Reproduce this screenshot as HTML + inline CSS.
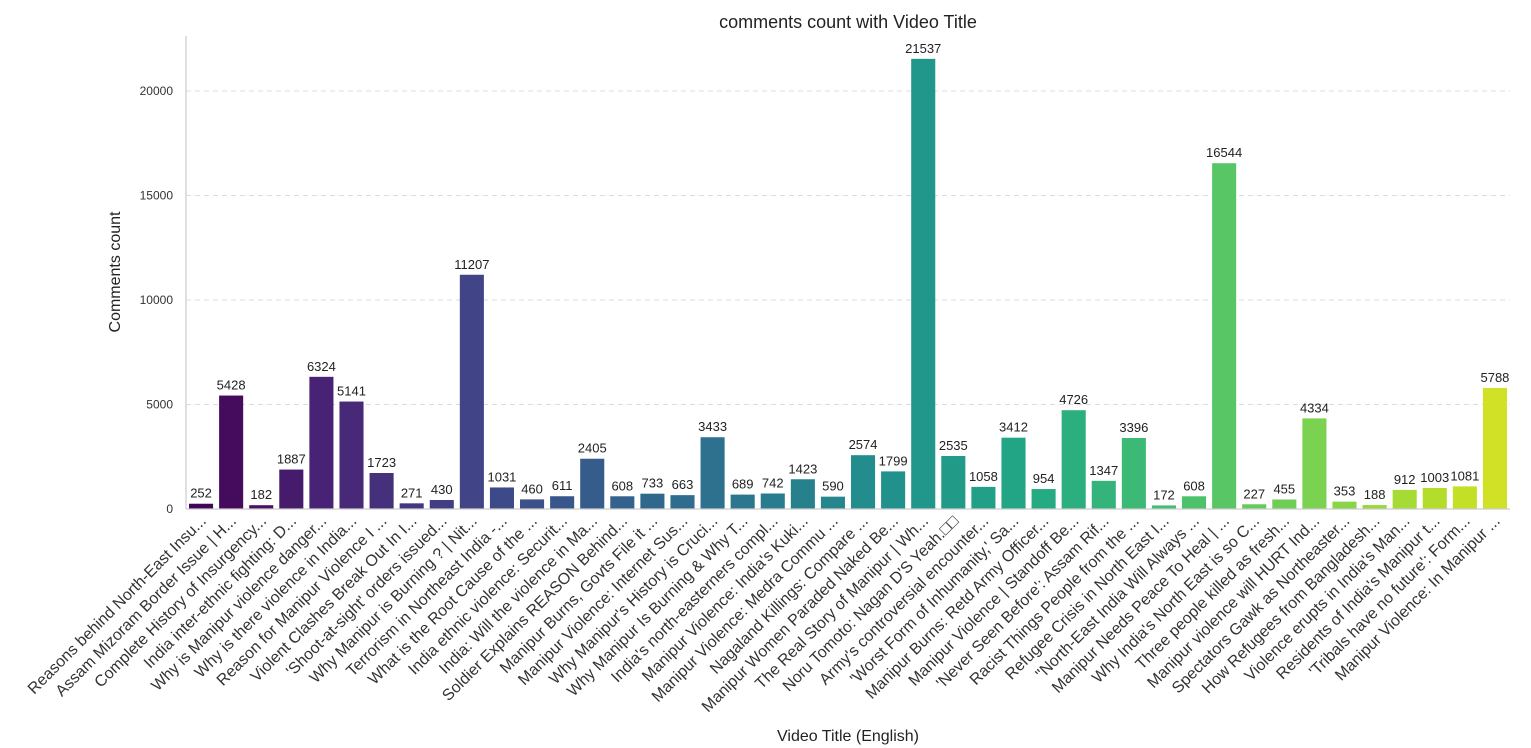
<!DOCTYPE html>
<html><head><meta charset="utf-8"><style>
html,body{margin:0;padding:0;background:#fff;}
svg{display:block;font-family:"Liberation Sans","Noto Sans CJK SC",sans-serif;}
</style></head><body>
<svg id="chart" width="1531" height="748"></svg>
<script>
const categories = [
"Reasons behind North-East Insu...","Assam Mizoram Border Issue | H...","Complete History of Insurgency...","India inter-ethnic fighting: D...","Why is Manipur violence danger...","Why is there violence in India...","Reason for Manipur Violence I ...","Violent Clashes Break Out In I...","'Shoot-at-sight' orders issued...","Why Manipur is Burning ? | Nit...","Terrorism in Northeast India -...","What is the Root Cause of the ...","India ethnic violence: Securit...","India: Will the violence in Ma...","Soldier Explains REASON Behind...","Manipur Burns, Govts File it ...","Manipur Violence: Internet Sus...","Why Manipur's History is Cruci...","Why Manipur Is Burning & Why T...","India's north-easterners compl...","Manipur Violence: India's Kuki...","Manipur Violence: Medra Commu ...","Nagaland Killings: Compare ...","Manipur Women Paraded Naked Be...","The Real Story of Manipur | Wh...","Noru Tomoto: Nagan D'S Yeah.□□","Army's controversial encounter...","'Worst Form of Inhumanity,' Sa...","Manipur Burns: Retd Army Officer...","Manipur Violence | Standoff Be...","'Never Seen Before': Assam Rif...","Racist Things People from the ...","Refugee Crisis in North East I...","\"North-East India Will Always ...","Manipur Needs Peace To Heal | ...","Why India's North East is so C...","Three people killed as fresh...","Manipur violence will HURT Ind...","Spectators Gawk as Northeaster...","How Refugees from Bangladesh...","Violence erupts in India's Man...","Residents of India's Manipur t...","'Tribals have no future': Form...","Manipur Violence: In Manipur ..."];
const values = [252,5428,182,1887,6324,5141,1723,271,430,11207,1031,460,611,2405,608,733,663,3433,689,742,1423,590,2574,1799,21537,2535,1058,3412,954,4726,1347,3396,172,608,16544,227,455,4334,353,188,912,1003,1081,5788];
const yTicks = [0,5000,10000,15000,20000];

const NS="http://www.w3.org/2000/svg";
const svg=document.getElementById('chart');
const L=186,R=1510,T=36,B=509,yMax=22630;
const n=categories.length, step=(R-L)/n;
const y=v=>B-(v/yMax)*(B-T);
const xc=i=>L+step*(i+0.5);
const vir=[[68,1,84],[72,36,117],[65,68,135],[53,95,141],[42,120,142],[33,145,140],[34,168,132],[68,191,112],[122,209,81],[189,223,38],[253,231,37]];
function col(t){t=0.01+t*0.92;const p=t*10,k=Math.min(9,Math.floor(p)),f=p-k;const a=vir[k],b=vir[k+1];return 'rgb('+a.map((c,j)=>Math.round(c+(b[j]-c)*f)).join(',')+')';}
function mk(tag,attrs,txt){const e=document.createElementNS(NS,tag);for(const k in attrs)e.setAttribute(k,attrs[k]);if(txt!==undefined)e.textContent=txt;svg.appendChild(e);return e;}

yTicks.forEach(t=>{
  if(t>0){const g=mk('line',{x1:L,x2:R,y1:y(t),y2:y(t),stroke:'#dcdcdc','stroke-dasharray':'5,4','stroke-width':1});
  
  }
  const tl=mk('text',{x:173,y:y(t)+4,'text-anchor':'end','font-size':12,fill:'#333'},t);
  
  
});
values.forEach((v,i)=>{
  const w=step*0.8;
  const r=mk('rect',{x:xc(i)-w/2,y:y(v),width:w,height:B-y(v),fill:col(i/(n-1))});
  
  
  const vl=mk('text',{x:xc(i),y:y(v)-6,'text-anchor':'middle','font-size':13,fill:'#222'},v);
  
  
  const ax=xc(i)+6, ay=B+13;
  const xl=mk('text',{x:ax,y:ay,'text-anchor':'end','font-size':16,fill:'#333',transform:'rotate(-45 '+ax+' '+ay+')'},categories[i]);
  
  
});
const sp1=mk('line',{x1:L,x2:L,y1:T,y2:B,stroke:'#ccc','stroke-width':1.2});


const sp2=mk('line',{x1:L,x2:R,y1:B,y2:B,stroke:'#ccc','stroke-width':1.2});


const ti=mk('text',{x:848,y:28,'text-anchor':'middle','font-size':18,fill:'#222'},'comments count with  Video Title');


const yt=mk('text',{x:120,y:272,'text-anchor':'middle','font-size':16,fill:'#222',transform:'rotate(-90 120 272)'},'Comments count');


const xt=mk('text',{x:848,y:741,'text-anchor':'middle','font-size':16,fill:'#222'},'Video Title (English)');


</script>
</body></html>
